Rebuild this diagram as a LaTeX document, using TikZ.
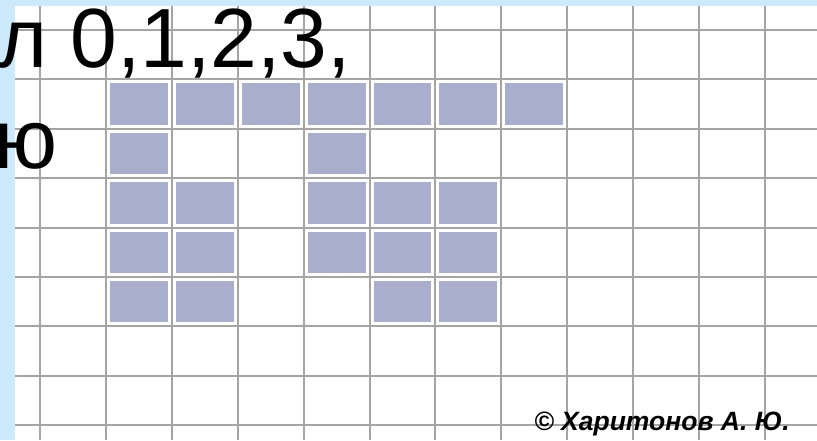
\documentclass[tikz,border=0pt]{standalone}
\usepackage{fontspec}
\setmainfont{Liberation Sans}
\usepackage{tikz}

\definecolor{sky}{RGB}{204,234,252}
\definecolor{cellfill}{RGB}{168,174,204}
\definecolor{gridgray}{RGB}{165,165,165}

\begin{document}
\begin{tikzpicture}[x=1pt,y=-1pt]
\useasboundingbox (0,0) rectangle (817,440);

\fill[sky] (0,0) rectangle (817,440);
\fill[white] (15,6) rectangle (817,440);

\foreach \x in {0,...,11}{
\draw[gridgray, line width=2pt] (40+65.9*\x,6) -- (40+65.9*\x,440);
}
\foreach \y in {0,...,8}{
\draw[gridgray, line width=2pt] (15,30+49.4*\y) -- (817,30+49.4*\y);
}

\foreach \c/\r in {1/1,2/1,3/1,4/1,5/1,6/1,7/1, 1/2,4/2, 1/3,2/3,4/3,5/3,6/3, 1/4,2/4,4/4,5/4,6/4, 1/5,2/5,5/5,6/5}{
\filldraw[fill=cellfill, draw=white, line width=2pt] (40+65.9*\c+3, 30+49.4*\r+3) rectangle (40+65.9*\c+62.9, 30+49.4*\r+46.4);
}

\node[anchor=base west, inner sep=0pt, font=\fontsize{84}{100}\selectfont] (line1) at (-2,67.5) {л 0,1,2,3,};
\node[anchor=base west, inner sep=0pt, font=\fontsize{84}{100}\selectfont] (line2) at (-6,168) {ю};

\node[anchor=base east, inner sep=0pt, font=\fontsize{26.5}{30}\selectfont\bfseries\itshape] (author) at (790,430) {© Харитонов А. Ю.};
\end{tikzpicture}
\end{document}
